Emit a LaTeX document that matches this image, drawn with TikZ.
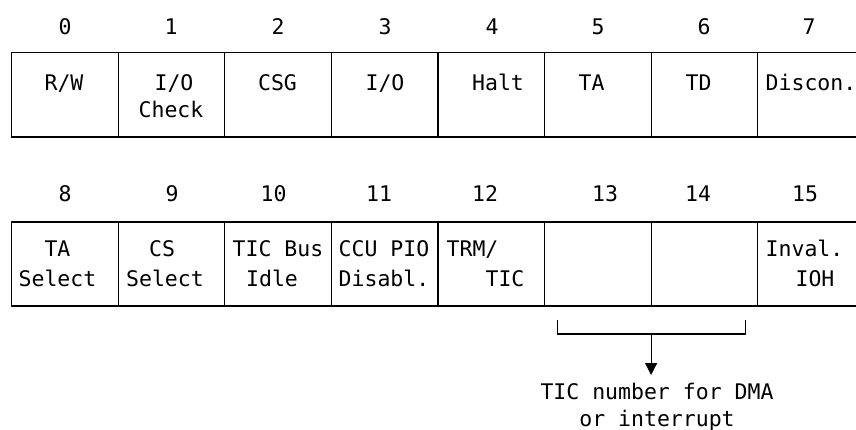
\documentclass[tikz,border=0pt]{standalone}
\usepackage{fontspec}
\usepackage{tikz}
\usetikzlibrary{arrows.meta, positioning}
\newfontfamily\regfont{DejaVu Sans Mono}

\begin{document}
\begin{tikzpicture}[x=1pt, y=-1pt,
  cell/.style={rectangle, draw, line width=1.2pt, minimum width=106.6pt,
    minimum height=84.5pt, inner sep=0pt, outer sep=0pt},
  bitno/.style={font=\regfont\fontsize{21.5}{27}\selectfont, inner sep=0pt},
  lab/.style={font=\regfont\fontsize{21.5}{27}\selectfont, inner sep=0pt, anchor=base},
  node distance=0pt,
]
  \useasboundingbox (0,0) rectangle (856,429);

  % bits 0--7
  \node[cell, anchor=north west] (c0) at (11.5,52.5) {};
  \node[cell, right=of c0] (c1) {};
  \node[cell, right=of c1] (c2) {};
  \node[cell, right=of c2] (c3) {};
  \node[cell, right=of c3] (c4) {};
  \node[cell, right=of c4] (c5) {};
  \node[cell, right=of c5] (c6) {};
  \node[cell, right=of c6] (c7) {};

  % bits 8--15
  \node[cell, below=85pt of c0, minimum height=84pt] (c8) {};
  \node[cell, right=of c8, minimum height=84pt] (c9) {};
  \node[cell, right=of c9, minimum height=84pt] (c10) {};
  \node[cell, right=of c10, minimum height=84pt] (c11) {};
  \node[cell, right=of c11, minimum height=84pt] (c12) {};
  \node[cell, right=of c12, minimum height=84pt] (c13) {};
  \node[cell, right=of c13, minimum height=84pt] (c14) {};
  \node[cell, right=of c14, minimum height=84pt] (c15) {};

  % bit numbers
  \node[bitno] (b0) at (65,26.5) {0};
  \node[bitno] (b1) at (171,26.5) {1};
  \node[bitno] (b2) at (278,26.5) {2};
  \node[bitno] (b3) at (385,26.5) {3};
  \node[bitno] (b4) at (492,26.5) {4};
  \node[bitno] (b5) at (598,26.5) {5};
  \node[bitno] (b6) at (704,26.5) {6};
  \node[bitno] (b7) at (809,26.5) {7};
  \node[bitno] (b8) at (65,193.5) {8};
  \node[bitno] (b9) at (172,193.5) {9};
  \node[bitno] (b10) at (273.5,193.5) {10};
  \node[bitno] (b11) at (379,193.5) {11};
  \node[bitno] (b12) at (485,193.5) {12};
  \node[bitno] (b13) at (605,193.5) {13};
  \node[bitno] (b14) at (698,193.5) {14};
  \node[bitno] (b15) at (805,193.5) {15};

  % field names, first row
  \node[lab] (t0) at (64,90) {R/W};
  \node[lab] (t1a) at (174,90) {I/O};
  \node[lab] (t1b) at (171,117) {Check};
  \node[lab] (t2) at (277.5,90) {CSG};
  \node[lab] (t3) at (385,90) {I/O};
  \node[lab] (t4) at (498,90) {Halt};
  \node[lab] (t5) at (591.5,90) {TA};
  \node[lab] (t6) at (698.5,90) {TD};
  \node[lab] (t7) at (811,90) {Discon.};

  % field names, second row
  \node[lab] (t8a) at (57.5,256) {TA};
  \node[lab] (t8b) at (57.5,286) {Select};
  \node[lab] (t9a) at (162,256) {CS};
  \node[lab] (t9b) at (165,286) {Select};
  \node[lab] (t10a) at (278,256) {TIC Bus};
  \node[lab] (t10b) at (272,286) {Idle};
  \node[lab] (t11a) at (384,256) {CCU PIO};
  \node[lab] (t11b) at (384,286) {Disabl.};
  \node[lab] (t12a) at (472.5,256) {TRM/};
  \node[lab] (t12b) at (505,286) {TIC};
  \node[lab] (t15a) at (804.5,256) {Inval.};
  \node[lab] (t15b) at (815,286) {IOH};

  % bits 13--14
  \coordinate (brl) at ([xshift=13pt, yshift=-14pt]c13.south west);
  \coordinate (brr) at ([xshift=-12pt, yshift=-14pt]c14.south east);
  \coordinate (brm) at ([yshift=-28pt]c13.south east);
  \draw[line width=1.2pt] (brl) |- (brm) -| (brr);

  \node[font=\regfont\fontsize{21.5}{27}\selectfont, align=center, anchor=north,
    inner xsep=0pt, inner ysep=7.5pt] (note) at (657,375) {TIC number for DMA\\or interrupt};
  \draw[line width=1.2pt, -{Triangle[width=12pt, length=12pt]}] (brm) -- (brm |- note.north);
\end{tikzpicture}
\end{document}
